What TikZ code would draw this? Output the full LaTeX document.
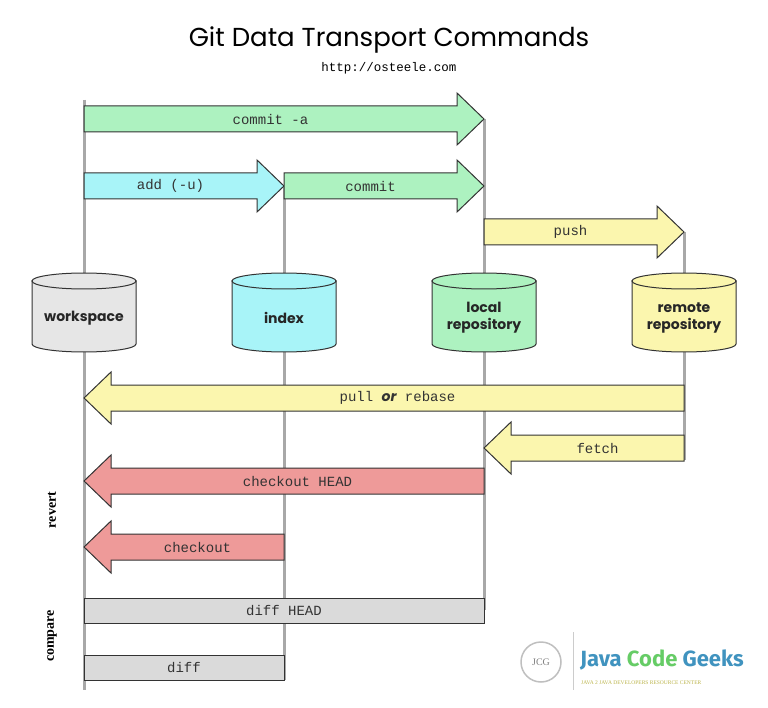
\documentclass[tikz,border=0pt]{standalone}
\usepackage{fontspec}
\setmainfont{Lato}
\newfontfamily\mono{Liberation Mono}
\newfontfamily\pop{Poppins}
\definecolor{cgreen}{HTML}{ADF2C0}
\definecolor{ccyan}{HTML}{A8F4F8}
\definecolor{cyell}{HTML}{FBF6AE}
\definecolor{cred}{HTML}{EE9A99}
\definecolor{cgray}{HTML}{DADADA}
\definecolor{cws}{HTML}{E6E6E6}
\definecolor{lgray}{HTML}{A8A8A8}
\newcommand\myarrow[6]{% name, xstart, xtip, ycenter, color, label
 \pgfmathsetmacro\dir{(#3>#2)?1:-1}
 \draw[fill=#5,line width=1pt,draw=black!80,line join=miter]
  (#2,#4-13) -- (#3-\dir*27,#4-13) -- (#3-\dir*27,#4-26) -- (#3,#4) -- (#3-\dir*27,#4+26) -- (#3-\dir*27,#4+13) -- (#2,#4+13) -- cycle;
 \node[font=\mono\fontsize{14}{14}\selectfont,text=black!80] (#1) at ({(#2+#3-\dir*27)/2},#4) {#6};
}
\newcommand\mycyl[4]{% name, x, color, label
 \draw[fill=#3,line width=1pt,draw=black!80] (#2-52,281) -- (#2-52,344) arc[start angle=180,end angle=0,x radius=52,y radius=8] -- (#2+52,281) -- cycle;
 \draw[fill=#3,line width=1pt,draw=black!80] (#2,281) ellipse[x radius=52,y radius=8];
 \node[font=\pop\bfseries\fontsize{14}{17}\selectfont,align=center,text=black!85] (#1) at (#2,318) {#4};
}
\begin{document}
\begin{tikzpicture}[x=1pt,y=-1pt]
\useasboundingbox[fill=white] (0,0) rectangle (768,708);
\tikzset{vl/.style={lgray,line width=3pt}}
\node[font=\pop\fontsize{26}{30}\selectfont] (title) at (389,40) {Git Data Transport Commands};
\node[font=\mono\fontsize{12.5}{12}\selectfont] (url) at (389,68) {http://osteele.com};
\draw[vl] (84,100) -- (84,690);
\draw[vl] (284,185) -- (284,680);
\draw[vl] (484,119) -- (484,610);
\draw[vl] (684,232) -- (684,460);
\myarrow{ca}{84}{484}{119}{cgreen}{commit -a}
\myarrow{add}{84}{284}{186}{ccyan}{add (-u)}
\myarrow{cm}{284}{484}{186}{cgreen}{commit}
\myarrow{push}{484}{684}{232}{cyell}{push}
\mycyl{ws}{84}{cws}{workspace}
\mycyl{ix}{284}{ccyan}{index}
\mycyl{lr}{484}{cgreen}{local\\repository}
\mycyl{rr}{684}{cyell}{remote\\repository}
\myarrow{pull}{684}{84}{398}{cyell}{pull {\itshape\bfseries\pop or} rebase}
\myarrow{fetch}{684}{484}{448}{cyell}{fetch}
\myarrow{coh}{484}{84}{481}{cred}{checkout HEAD}
\myarrow{co}{284}{84}{547}{cred}{checkout}
\draw[fill=cgray,line width=1pt,draw=black!80] (84,598) rectangle (484,623);
\node[font=\mono\fontsize{14}{14}\selectfont,text=black!80] (dh) at (284,610.5) {diff HEAD};
\draw[fill=cgray,line width=1pt,draw=black!80] (84,655) rectangle (284,680);
\node[font=\mono\fontsize{14}{14}\selectfont,text=black!80] (df) at (184,667.5) {diff};
\node[rotate=90,font=\fontspec{Liberation Serif}\bfseries\fontsize{14}{14}\selectfont] (rv) at (52,510) {revert};
\node[rotate=90,font=\fontspec{Liberation Serif}\bfseries\fontsize{14}{14}\selectfont] (cp) at (52,636) {compare};
\draw[gray!50,line width=1.5pt] (541,662) circle[radius=20];
\node[font=\fontspec{Liberation Serif}\fontsize{10}{10}\selectfont,text=gray] (jcg) at (541,662) {JCG};
\draw[gray!40] (573,632) -- (573,690);
\node[font=\fontspec{Fira Sans}\bfseries\fontsize{22}{22}\selectfont,anchor=west,inner sep=0] (jcgt) at (580,660) {\textcolor{blue!35!cyan!50!gray}{Java} \textcolor{green!50!gray!80}{Code} \textcolor{blue!35!cyan!50!gray}{Geeks}};
\node[font=\fontspec{Liberation Serif}\fontsize{5.5}{6}\selectfont,text=olive!60,anchor=west,inner sep=0] (sub) at (581,683) {JAVA 2 JAVA DEVELOPERS RESOURCE CENTER};
\end{tikzpicture}
\end{document}
